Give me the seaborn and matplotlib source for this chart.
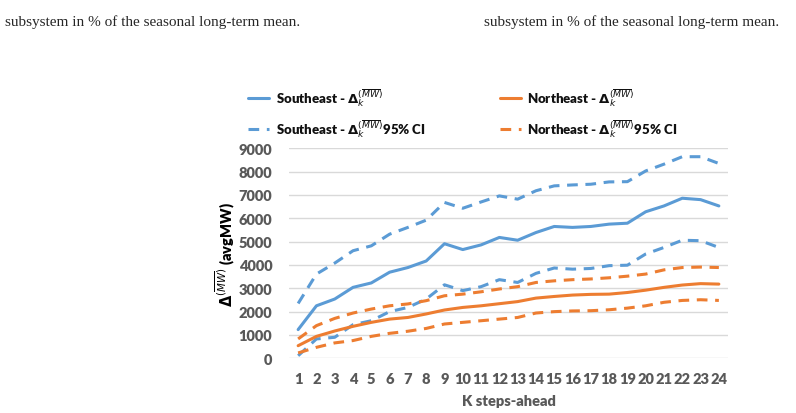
import numpy as np
import pandas as pd
import matplotlib
matplotlib.use("Agg")
import matplotlib.pyplot as plt
import seaborn as sns

steps = list(range(1, 25))
se_mean = [1230, 2250, 2540, 3040, 3230, 3690, 3890, 4170, 4910, 4660, 4860, 5180,
           5060, 5390, 5650, 5610, 5650, 5750, 5790, 6280, 6530, 6860, 6800, 6530]
se_upper = [2350, 3610, 4080, 4610, 4820, 5320, 5610, 5920, 6680, 6430, 6700, 6960,
            6820, 7180, 7390, 7430, 7460, 7560, 7570, 8030, 8320, 8640, 8640, 8350]
se_lower = [110, 830, 900, 1440, 1610, 2000, 2180, 2540, 3150, 2900, 3070, 3370,
            3250, 3640, 3870, 3820, 3850, 3970, 3990, 4470, 4750, 5060, 5040, 4750]
ne_mean = [540, 940, 1170, 1370, 1540, 1680, 1750, 1900, 2070, 2180, 2250, 2340,
           2430, 2580, 2650, 2710, 2740, 2750, 2820, 2920, 3040, 3140, 3200, 3180]
ne_upper = [830, 1400, 1710, 1940, 2110, 2250, 2330, 2470, 2680, 2750, 2850, 2970,
            3070, 3250, 3320, 3370, 3400, 3450, 3520, 3610, 3790, 3890, 3910, 3890]
ne_lower = [230, 470, 660, 760, 940, 1070, 1160, 1280, 1470, 1540, 1610, 1680,
            1750, 1940, 2000, 2030, 2040, 2080, 2150, 2250, 2400, 2480, 2510, 2480]
y_ticks = [0, 1000, 2000, 3000, 4000, 5000, 6000, 7000, 8000, 9000]

BLUE = "#5B9BD5"
ORANGE = "#ED7D31"
TICK = "#595959"

sns.set_theme(style="white")
plt.rcParams["font.family"] = ["Lato", "DejaVu Sans"]
plt.rcParams["mathtext.fontset"] = "dejavusans"

fig = plt.figure(figsize=(7.96, 4.14), dpi=100)
ax = fig.add_axes([289 / 796, 1 - 359.3 / 414, (728 - 289) / 796, (359.3 - 149.3) / 414])

sym = r"$\mathbf{\Delta}_{\mathit{k}}^{(\overline{\mathit{MW}})}$"
lw = 2.2
dash = (3.5, 2.5)

df = pd.DataFrame({"k": steps, "se_mean": se_mean, "se_upper": se_upper, "se_lower": se_lower,
                   "ne_mean": ne_mean, "ne_upper": ne_upper, "ne_lower": ne_lower})

sns.lineplot(data=df, x="k", y="se_mean", ax=ax, color=BLUE, lw=lw, label="Southeast - " + sym)
sns.lineplot(data=df, x="k", y="se_upper", ax=ax, color=BLUE, lw=lw,
             label="Southeast - " + sym + "95% CI")
ax.lines[-1].set_dashes(dash)
sns.lineplot(data=df, x="k", y="se_lower", ax=ax, color=BLUE, lw=lw, legend=False)
ax.lines[-1].set_dashes(dash)
sns.lineplot(data=df, x="k", y="ne_mean", ax=ax, color=ORANGE, lw=lw, label="Northeast - " + sym)
sns.lineplot(data=df, x="k", y="ne_upper", ax=ax, color=ORANGE, lw=lw,
             label="Northeast - " + sym + "95% CI")
ax.lines[-1].set_dashes(dash)
sns.lineplot(data=df, x="k", y="ne_lower", ax=ax, color=ORANGE, lw=lw, legend=False)
ax.lines[-1].set_dashes(dash)

ax.set_xlim(0.5, 24.5)
ax.set_ylim(0, 9000)
ax.set_xticks(steps)
ax.set_xticklabels([str(s) for s in steps])
ax.set_yticks(y_ticks)
ax.set_yticklabels([str(v) for v in y_ticks])
for s in ax.spines.values():
    s.set_visible(False)
ax.grid(axis="y", color="#D9D9D9", lw=1.0)
ax.grid(axis="x", visible=False)
ax.set_axisbelow(True)
ax.tick_params(axis="both", length=0, labelsize=10.5, labelcolor=TICK)
ax.tick_params(axis="y", pad=12)
ax.tick_params(axis="x", pad=10)
for t in ax.get_xticklabels() + ax.get_yticklabels():
    t.set_fontweight("heavy")
ax.set_xlabel("K steps-ahead", fontsize=10.5, fontweight="heavy", color=TICK, labelpad=6)
ax.set_ylabel(r"$\mathbf{\Delta}^{(\overline{\mathit{MW}})}$ (avgMW)", fontsize=10.5,
              fontweight="heavy", color="black", labelpad=1)

handles, labels = ax.get_legend_handles_labels()
ax.get_legend().remove()
leg = fig.legend(handles, labels,
                 loc="upper left", bbox_to_anchor=(243 / 796, 1 - 82 / 414), ncol=2,
                 frameon=False, fontsize=9.5, handlelength=1.6, columnspacing=5.6,
                 labelspacing=0.65, handletextpad=0.5, borderaxespad=0)
for t in leg.get_texts():
    t.set_fontweight("heavy")
    t.set_color("#111111")

fig.text(5 / 796, 1 - 22 / 414, "subsystem in % of the seasonal long-term mean.",
         family="Liberation Serif", fontsize=11, va="center", ha="left")
fig.text(484 / 796, 1 - 22 / 414, "subsystem in % of the seasonal long-term mean.",
         family="Liberation Serif", fontsize=11, va="center", ha="left")

fig.savefig("out.png", dpi=100)
